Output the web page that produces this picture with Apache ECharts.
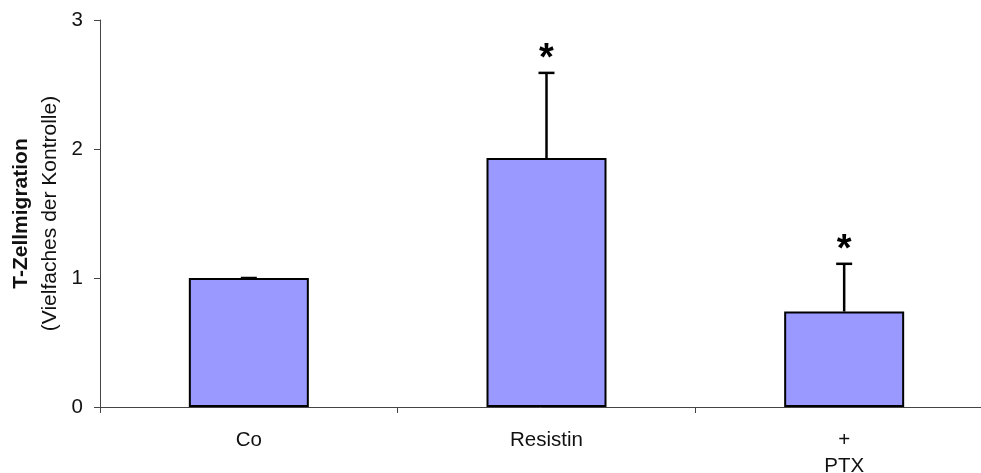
<!DOCTYPE html>
<html>
<head>
<meta charset="utf-8">
<script src="https://cdn.jsdelivr.net/npm/echarts@6/dist/echarts.min.js"></script>
<style>
html,body{margin:0;padding:0;background:#fff;}
#chart{width:981px;height:473px;}
</style>
</head>
<body>
<div id="chart"></div>
<script>
var categories = ['Co', 'Resistin', '+\nPTX'];
var means = [1.0, 1.93, 0.74];
var errors = [0.0, 0.66, 0.37];
var significant = [false, true, true];
var yTicks = [0, 1, 2, 3];

var errData = categories.map(function (c, i) {
  return [i, means[i], means[i] + errors[i], significant[i] ? 1 : 0];
});

var chart = echarts.init(document.getElementById('chart'));
chart.setOption({
  animation: false,
  backgroundColor: '#ffffff',
  grid: { left: 100, top: 20, bottom: 66, right: -12, outerBoundsMode: 'none', containLabel: false },
  xAxis: {
    type: 'category',
    data: categories,
    axisLine: { lineStyle: { color: '#444', width: 1 } },
    axisTick: { show: true, length: 6, lineStyle: { color: '#444' } },
    axisLabel: { fontFamily: 'Liberation Sans, Arial, sans-serif', fontSize: 20.5, color: '#111', lineHeight: 26, margin: 20 }
  },
  yAxis: {
    type: 'value',
    min: yTicks[0],
    max: yTicks[yTicks.length - 1],
    interval: 1,
    splitLine: { show: false },
    axisLine: { show: true, lineStyle: { color: '#444', width: 1 } },
    axisTick: { show: true, length: 6, lineStyle: { color: '#444' } },
    axisLabel: { fontFamily: 'Liberation Sans, Arial, sans-serif', fontSize: 20.5, color: '#111', margin: 17 },
    name: '{b|T-Zellmigration}\n{n|(Vielfaches der Kontrolle)}',
    nameLocation: 'middle',
    nameRotate: 90,
    nameGap: 34,
    nameTextStyle: {
      rich: {
        b: { fontFamily: 'Liberation Sans, Arial, sans-serif', fontSize: 21, fontWeight: 'bold', color: '#111', lineHeight: 29 },
        n: { fontFamily: 'Liberation Sans, Arial, sans-serif', fontSize: 21, color: '#111', lineHeight: 29 }
      }
    }
  },
  series: [
    {
      type: 'bar',
      data: means,
      barWidth: 120,
      itemStyle: { color: '#9999FF', borderColor: '#000', borderWidth: 2 }
    },
    {
      type: 'custom',
      data: errData,
      z: 5,
      renderItem: function (params, api) {
        var x = api.value(0);
        var base = api.coord([x, api.value(1)]);
        var top = api.coord([x, api.value(2)]);
        var children = [
          { type: 'line', shape: { x1: base[0], y1: base[1], x2: top[0], y2: top[1] }, style: { stroke: '#000', lineWidth: 2.5 } },
          { type: 'line', shape: { x1: top[0] - 8, y1: top[1], x2: top[0] + 8, y2: top[1] }, style: { stroke: '#000', lineWidth: 2.5 } }
        ];
        if (api.value(3)) {
          children.push({
            type: 'text',
            style: {
              text: '*', x: top[0], y: top[1] + 6,
              fontFamily: 'Liberation Sans, Arial, sans-serif', fontSize: 38, fontWeight: 'bold',
              fill: '#000', align: 'center', verticalAlign: 'bottom'
            }
          });
        }
        return { type: 'group', children: children };
      }
    }
  ]
});
</script>
</body>
</html>
